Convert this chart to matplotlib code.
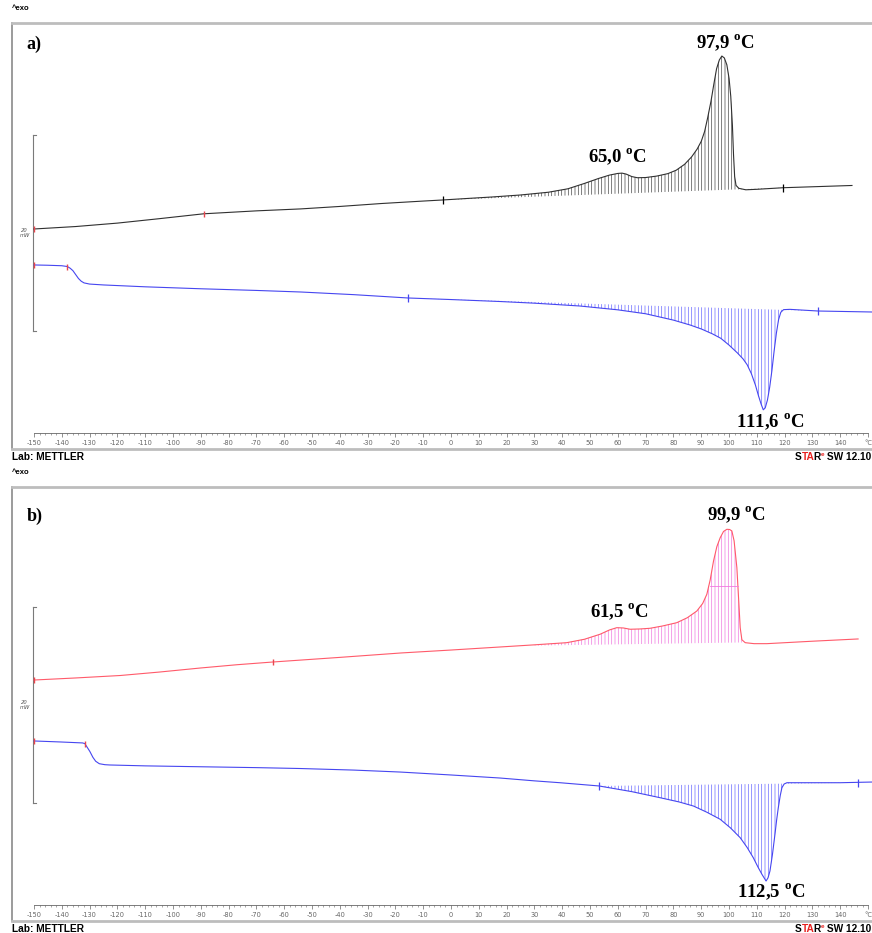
"""DSC thermograms (METTLER STARe export look): two panels, heating + cooling."""
import matplotlib
matplotlib.use("Agg")
import matplotlib.pyplot as plt
import numpy as np

plt.rcParams["mathtext.fontset"] = "custom"
plt.rcParams["mathtext.bf"] = "Liberation Serif:bold"
plt.rcParams["mathtext.rm"] = "Liberation Serif"
plt.rcParams["hatch.linewidth"] = 0.5

# ---------------- panel a) ------------------------------------------------
# heating run (black), heat flow in mW (arbitrary offset)
a_heat_T = [-150, -135, -120, -105, -89, -70, -54, -40, -25, -10, -3, 5, 15,
            25, 35, 42, 48, 53, 57, 60, 61.5, 63, 65, 67, 70, 74, 78, 81, 84,
            86.5, 88.5, 90, 91.2, 92.3, 93.5, 94.5, 95.5, 96.5, 97.4, 98.3,
            99.2, 100, 100.6, 101.2, 101.6, 102.0, 102.5, 103.5, 106, 110,
            119.4, 144.2]
a_heat_mw = [22.45, 22.7, 23.05, 23.5, 24.0, 24.3, 24.5, 24.75, 25.05, 25.3,
             25.41, 25.55, 25.72, 25.92, 26.2, 26.55, 27.1, 27.6, 27.95, 28.12,
             28.15, 28.05, 27.8, 27.68, 27.7, 27.85, 28.1, 28.45, 29.05, 29.8,
             30.6, 31.4, 32.4, 33.8, 35.5, 37.2, 38.8, 39.7, 40.1, 39.9, 39.2,
             37.8, 36.0, 33.0, 30.0, 27.8, 26.9, 26.6, 26.45, 26.5, 26.66,
             26.89]
a_heat_base_T = [-3, 119.4]
a_heat_base_mw = [25.41, 26.66]
a_heat_marks = [-150, -89]

# cooling run (blue)
a_cool_T = [-150, -145, -140, -138, -137, -136, -135, -134, -133, -132, -130,
            -125, -110, -90, -70, -54, -35, -15.5, 0, 17.6, 30, 46.4, 60, 70,
            80, 86, 90, 94, 97, 100, 103, 105, 106.5, 108, 109.5, 110.5,
            111.5, 112.3, 113, 113.8, 114.6, 115.4, 116.2, 117, 117.8, 118.6,
            119.6, 121.9, 132, 151.4]
a_cool_mw = [18.78, 18.75, 18.7, 18.62, 18.45, 18.2, 17.8, 17.4, 17.12,
             16.95, 16.83, 16.74, 16.55, 16.35, 16.18, 16.02, 15.75, 15.41,
             15.25, 15.05, 14.88, 14.59, 14.2, 13.8, 13.15, 12.65, 12.25,
             11.75, 11.3, 10.6, 9.8, 9.2, 8.6, 7.7, 6.5, 5.5, 4.6, 4.0, 4.2,
             5.0, 6.3, 8.0, 10.0, 11.8, 13.2, 13.95, 14.22, 14.25, 14.08,
             13.98]
a_cool_base_T = [-15.5, 132.0]
a_cool_base_mw = [15.41, 14.08]
a_cool_marks = [-150, -138]

# ---------------- panel b) ------------------------------------------------
b_heat_T = [-150, -135, -119, -105, -90, -77, -64, -40, -18, 0, 17.6, 30,
            41.6, 48, 53.6, 57, 59.6, 62, 64.4, 68, 71.6, 76, 81.2, 85, 88.4,
            90.5, 92, 93.2, 94.4, 95.6, 96.8, 98, 99.2, 100.2, 101, 101.8,
            102.8, 103.4, 104, 104.6, 105.8, 109, 113.6, 130, 146.4]
b_heat_mw = [24.59, 24.8, 25.05, 25.4, 25.82, 26.15, 26.43, 26.9, 27.35,
             27.65, 27.96, 28.18, 28.4, 28.75, 29.26, 29.7, 29.93, 29.9,
             29.77, 29.8, 29.87, 30.1, 30.44, 30.95, 31.63, 32.4, 33.34, 34.8,
             36.73, 38.2, 39.11, 39.75, 39.97, 39.95, 39.8, 38.8, 36.05, 33.0,
             29.93, 28.7, 28.4, 28.3, 28.3, 28.55, 28.78]
b_heat_base_T = [25.0, 104.6]
b_heat_base_mw = [28.08, 28.42]
b_heat_marks = [-150, -64]
b_half_T = [93.2, 103.3]
b_half_mw = 34.2

b_cool_T = [-150, -140.6, -132.5, -131.7, -130.8, -129.9, -128.8, -127.8,
            -126.5, -124.5, -122.7, -110, -90.3, -70, -54.3, -35, -18.3, 0,
            17.6, 30, 39.2, 53.2, 65, 75.2, 82, 87.2, 92, 96.8, 100.5, 104,
            106.5, 108.7, 110.4, 111.8, 113.3, 114, 114.7, 115.6, 116.5,
            117.1, 117.7, 118.4, 119.0, 119.8, 120.8, 139.9, 151.4]
b_cool_mw = [18.37, 18.27, 18.17, 18.1, 17.7, 17.3, 16.7, 16.3, 16.05, 15.95,
             15.92, 15.83, 15.74, 15.65, 15.56, 15.4, 15.2, 14.9, 14.59, 14.3,
             14.11, 13.78, 13.2, 12.58, 12.15, 11.73, 11.1, 10.38, 9.5, 8.5,
             7.5, 6.46, 5.5, 4.77, 4.08, 4.4, 5.1, 6.8, 8.85, 10.3, 11.56,
             12.8, 13.6, 13.98, 14.11, 14.11, 14.18]
b_cool_base_T = [53.2, 146.3]
b_cool_base_mw = [13.78, 14.11]
b_cool_marks = [-150, -131.7]

# peak labels: (text, T, mW)
a_labels = [("97,9", 98.6, 41.5), ("65,0", 59.7, 29.8), ("111,6", 114.7, 2.8)]
b_labels = [("99,9", 102.5, 41.5), ("61,5", 60.4, 31.6), ("112,5", 115.1, 3.0)]

BLACK = "#303030"
BLUE = "#4646f0"
RED = "#ff5a6a"
PINK = "#f07ae0"
MARK = "#e8464e"
STAR_RED = "#e8201e"
SERIF = "Liberation Serif"
SANS = "Liberation Sans"

W, H = 872, 933
X_LEFT, X_RIGHT = -157.9, 151.4


def hatched(ax, T, mw, base_T, base_mw, color):
    T = np.asarray(T, float)
    mw = np.asarray(mw, float)
    m = (T >= base_T[0]) & (T <= base_T[1])
    base = np.interp(T[m], base_T, base_mw)
    ax.fill_between(T[m], mw[m], base, facecolor="none", edgecolor=color,
                    hatch="|||||", linewidth=0)


def curve(ax, T, mw, color, marks, base_T, base_mw, hatch_color, ends):
    hatched(ax, T, mw, base_T, base_mw, hatch_color)
    ax.plot(T, mw, color=color, lw=0.8, zorder=3)
    ax.plot(marks, np.interp(marks, T, mw), ls="none", marker="|", ms=4,
            mew=1.0, color=MARK, zorder=4)
    if ends is not None:
        ax.plot(base_T, base_mw, ls="none", marker="|", ms=6, mew=0.9,
                color=ends, zorder=4)


def footer(ax, bot_px):
    y = 1 - (bot_px + 7.5) / H
    fig.text(12 / W, y, "Lab: METTLER", fontsize=7.3, fontweight="bold",
             family=SANS, va="center", ha="left")
    kw = dict(fontweight="bold", family=SANS, ha="left", va="bottom",
              textcoords="offset points", annotation_clip=False)
    s = ax.annotate("S", xy=(795 / W, y), xycoords="figure fraction",
                    fontsize=7.3, fontweight="bold", family=SANS, ha="left",
                    va="center", annotation_clip=False)
    ta = ax.annotate("TA", xy=(1, 0), xycoords=s, xytext=(0, 0), fontsize=7.3,
                     color=STAR_RED, **kw)
    r = ax.annotate("R", xy=(1, 0), xycoords=ta, xytext=(-0.8, 0),
                    fontsize=7.3, **kw)
    e = ax.annotate("e", xy=(1, 0.42), xycoords=r, xytext=(0, 0),
                    fontsize=4.6, color=STAR_RED, **kw)
    ax.annotate(" SW 12.10", xy=(1, 0), xycoords=(e, r), xytext=(0, 0),
                fontsize=7.3, **kw)


def build(top_px, bot_px, tag, heat, heat_base, heat_marks, heat_color,
          heat_hatch, heat_ends, cool, cool_base, cool_marks, cool_ends,
          labels, extra=None):
    left = 12 / W
    ax = fig.add_axes([left, 1 - bot_px / H, 1 - left, (bot_px - top_px) / H])
    ax.set_xlim(X_LEFT, X_RIGHT)
    ax.set_ylim(0, (bot_px - top_px) / 9.8)
    ax.set_xticks([])
    ax.set_yticks([])
    ax.spines["right"].set_visible(False)
    for s in ("top", "bottom"):
        ax.spines[s].set_color("#bdbdbd")
        ax.spines[s].set_linewidth(2.0)
    ax.spines["left"].set_color("#8a8a8a")
    ax.spines["left"].set_linewidth(1.2)

    curve(ax, heat[0], heat[1], heat_color, heat_marks, heat_base[0],
          heat_base[1], heat_hatch, heat_ends)
    curve(ax, cool[0], cool[1], BLUE, cool_marks, cool_base[0], cool_base[1],
          "#6a6aff", cool_ends)
    if extra is not None:
        ax.plot(extra[0], [extra[1]] * 2, color=PINK, lw=0.6, zorder=3)

    # 20 mW scale bar
    y0 = 12.0
    ax.plot([-150.4, -150.4], [y0, y0 + 20], color="#7a7a7a", lw=0.8)
    for yy in (y0, y0 + 20):
        ax.plot([-150.4, -149.4], [yy, yy], color="#7a7a7a", lw=0.8)
    ax.text(-153.3, y0 + 10, "20\nmW", fontsize=3.8, color="#555",
            ha="center", va="center", style="italic", linespacing=1.0)

    ax.text(-152.6, 41.3, tag, fontsize=13, fontweight="bold",
            family=SERIF, ha="left", va="center")
    for txt, tx, ty in labels:
        ax.text(tx, ty, txt + r" $^{\mathbf{o}}$C", fontsize=13.5,
                fontweight="bold", family=SERIF, ha="center", va="center")

    # temperature axis drawn inside the frame
    tax = fig.add_axes([left, 1 - (bot_px - 16) / H, 1 - left, 0.0005])
    tax.set_xlim(X_LEFT, X_RIGHT)
    tax.patch.set_visible(False)
    for s in ("top", "left", "right"):
        tax.spines[s].set_visible(False)
    tax.spines["bottom"].set_bounds(-150, 150)
    tax.spines["bottom"].set_color("#666")
    tax.spines["bottom"].set_linewidth(0.6)
    tax.set_yticks([])
    major = list(range(-150, 151, 10))
    tax.set_xticks(major)
    tax.set_xticklabels([str(v) for v in major[:-1]] + ["°C"])
    tax.set_xticks(range(-150, 151, 2), minor=True)
    tax.tick_params(axis="x", which="major", length=3, width=0.5,
                    colors="#666", labelsize=4.8, pad=2.2, direction="out")
    tax.tick_params(axis="x", which="minor", length=1.5, width=0.4,
                    colors="#666", direction="out")

    fig.text(left, 1 - (top_px - 14) / H, "^exo", fontsize=5.5,
             fontweight="bold", family=SANS, va="center", ha="left")
    footer(ax, bot_px)
    return ax


fig = plt.figure(figsize=(W / 100, H / 100), dpi=100)

build(22.7, 449, "a)",
      (a_heat_T, a_heat_mw), (a_heat_base_T, a_heat_base_mw), a_heat_marks,
      BLACK, "#4a4a4a", "black",
      (a_cool_T, a_cool_mw), (a_cool_base_T, a_cool_base_mw), a_cool_marks,
      BLUE, a_labels)
build(487, 921, "b)",
      (b_heat_T, b_heat_mw), (b_heat_base_T, b_heat_base_mw), b_heat_marks,
      RED, PINK, None,
      (b_cool_T, b_cool_mw), (b_cool_base_T, b_cool_base_mw), b_cool_marks,
      BLUE, b_labels, extra=(b_half_T, b_half_mw))

fig.savefig("out.png", dpi=100)
